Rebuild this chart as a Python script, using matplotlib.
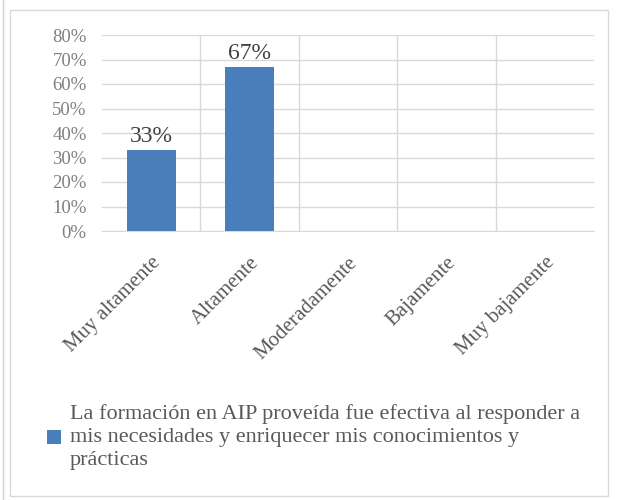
import matplotlib
matplotlib.use("Agg")
import matplotlib.pyplot as plt
from matplotlib.patches import Rectangle
from matplotlib.ticker import FixedLocator

categories = ["Muy altamente", "Altamente", "Moderadamente", "Bajamente", "Muy bajamente"]
values = [0.33, 0.67, 0, 0, 0]
bar_labels = ["33%", "67%", "", "", ""]
y_ticks = [0, 0.1, 0.2, 0.3, 0.4, 0.5, 0.6, 0.7, 0.8]
y_tick_labels = ["0%", "10%", "20%", "30%", "40%", "50%", "60%", "70%", "80%"]
legend_label = ("La formación en AIP proveída fue efectiva al responder a\n"
                "mis necesidades y enriquecer mis conocimientos y\n"
                "prácticas")

plt.rcParams['font.family'] = ['Liberation Serif', 'DejaVu Serif']

W, H = 617, 500
fig = plt.figure(figsize=(6.17, 5.00), dpi=100)
fig.patch.set_facecolor('white')
# outer chart border
fig.patches.append(Rectangle((10/W, 1 - 496/H), 598/W, 486/H, transform=fig.transFigure,
                             fill=False, edgecolor='#d9d9d9', linewidth=1.0))
fig.add_artist(plt.Line2D([3/W, 3/W], [0, 1], transform=fig.transFigure,
                          color='#d0d0d0', linewidth=1.0))

ax = fig.add_axes([102/W, 1 - 231/H, 492/W, 196/H])
x = list(range(len(categories)))
bars = ax.bar(x, values, width=0.5, color='#4a7ebb', zorder=3)
for b, lab in zip(bars, bar_labels):
    if lab:
        ax.annotate(lab, (b.get_x() + b.get_width()/2, b.get_height()),
                    xytext=(0, 2), textcoords='offset points',
                    ha='center', va='bottom', fontsize=17, color='#404040')

ax.set_xlim(-0.5, len(categories) - 0.5)
ax.set_ylim(0, 0.8)
ax.set_yticks(y_ticks)
ax.set_yticklabels(y_tick_labels, fontsize=13.5, color='#7f7f7f')
ax.set_xticks(x)
ax.set_xticklabels(categories, rotation=45, ha='right', rotation_mode='anchor',
                   fontsize=15, color='#595959')
ax.xaxis.set_minor_locator(FixedLocator([i + 0.5 for i in range(len(categories) - 1)]))
ax.tick_params(axis='both', which='both', length=0)
ax.tick_params(axis='y', pad=11)
ax.tick_params(axis='x', pad=16)
ax.grid(axis='y', which='major', color='#d9d9d9', linewidth=1.0, zorder=0)
ax.grid(axis='x', which='minor', color='#d9d9d9', linewidth=1.0, zorder=0)
for s in ['top', 'right', 'left']:
    ax.spines[s].set_visible(False)
ax.spines['bottom'].set_color('#d9d9d9')

# legend
fig.patches.append(Rectangle((47/W, 1 - 444/H), 14/W, 14/H, transform=fig.transFigure,
                             facecolor='#4a7ebb', edgecolor='none'))
fig.text(70/W, 1 - 437/H, legend_label, ha='left', va='center', fontsize=16,
         color='#595959', linespacing=1.3)

fig.savefig('out.png', dpi=100)
